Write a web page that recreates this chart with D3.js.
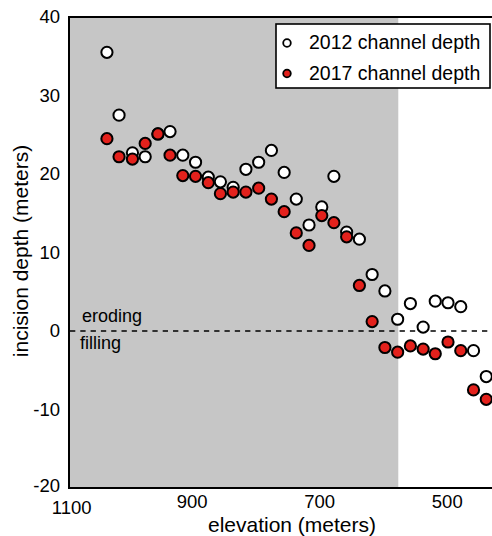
<!DOCTYPE html>
<html>
<head>
<meta charset="utf-8">
<script src="https://cdn.jsdelivr.net/npm/d3@7"></script>
<style>
  body { margin: 0; background: #fff; }
  svg text { font-family: "Liberation Sans", Arial, sans-serif; fill: #000; }
</style>
</head>
<body>
<div id="chart"></div>
<script>
const elevations = [1033, 1014, 993, 973, 953, 934, 914, 894, 874, 855, 835, 815, 795, 775, 755,
    736, 716, 696, 677, 657, 637, 617, 597, 577, 557, 537, 518, 498, 478, 458, 438];
const depth2012 = [35.5, 27.5, 22.7, 22.2, 25.1, 25.4, 22.4, 21.5, 19.6, 19.0, 18.3, 20.6, 21.5, 23.0, 20.2,
    16.8, 13.5, 15.8, 19.7, 12.6, 11.7, 7.2, 5.1, 1.5, 3.5, 0.5, 3.8, 3.6, 3.1, -2.5, -5.8];
const depth2017 = [24.5, 22.2, 21.9, 23.9, 25.1, 22.4, 19.8, 19.7, 18.9, 17.5, 17.7, 17.7, 18.2, 16.8, 15.2,
    12.5, 10.9, 14.7, 13.8, 12.0, 5.8, 1.2, -2.1, -2.7, -1.9, -2.3, -2.9, -1.4, -2.5, -7.5, -8.7];
const xTicks = [1100, 900, 700, 500];
const yTicks = [-20, -10, 0, 10, 20, 30, 40];
const erodingLimit = 576;   // shaded zone: elevations above this
const seriesNames = ["2012 channel depth", "2017 channel depth"];
const seriesColors = ["#ffffff", "#e3211c"];

const width = 492, height = 536;
const margin = { top: 17, right: 0, bottom: 48, left: 69 };

const svg = d3.select("#chart").append("svg")
    .attr("width", width)
    .attr("height", height);

const x = d3.scaleLinear().domain([1092.5, 429]).range([margin.left, width - margin.right]);
const y = d3.scaleLinear().domain([-20, 40]).range([height - margin.bottom, margin.top]);
const fmt = d => String(d);   // plain hyphen minus, no thousands comma

// shaded eroding zone
svg.append("rect")
    .attr("x", x(1092.5))
    .attr("y", y(40))
    .attr("width", x(erodingLimit) - x(1092.5))
    .attr("height", y(-20) - y(40))
    .attr("fill", "#c6c6c6");

// zero line
svg.append("line")
    .attr("x1", x(1092.5) + 1).attr("x2", width)
    .attr("y1", y(0)).attr("y2", y(0))
    .attr("stroke", "#000").attr("stroke-width", 1.6)
    .attr("stroke-dasharray", "5.3,5");

svg.append("text").attr("x", 82).attr("y", y(0) - 9).attr("font-size", 18).text("eroding");
svg.append("text").attr("x", 80).attr("y", y(0) + 18).attr("font-size", 18).text("filling");

// frame
svg.append("path")
    .attr("d", `M${width},${y(40)}H${x(1092.5)}V${y(-20)}H${width}`)
    .attr("fill", "none").attr("stroke", "#000").attr("stroke-width", 2);

// axes
const xAxis = svg.append("g")
    .attr("transform", `translate(0,${y(-20)})`)
    .call(d3.axisBottom(x).tickValues(xTicks).tickFormat(fmt).tickSize(0).tickPadding(7));
xAxis.select(".domain").remove();
xAxis.selectAll("text").attr("font-size", 18.5).attr("font-family", null)
    .attr("dx", d => d === 1100 ? 7 : 0)
    .attr("y", d => d === 1100 ? 13 : 7);

const yAxis = svg.append("g")
    .attr("transform", `translate(${x(1092.5)},0)`)
    .call(d3.axisLeft(y).tickValues(yTicks).tickFormat(fmt).tickSize(0).tickPadding(9));
yAxis.select(".domain").remove();
yAxis.selectAll("text").attr("font-size", 18.5).attr("font-family", null)
    .attr("y", d => d === -20 ? -2.5 : 0);

svg.append("text")
    .attr("x", 292).attr("y", 532)
    .attr("text-anchor", "middle").attr("font-size", 21)
    .text("elevation (meters)");

svg.append("text")
    .attr("transform", `translate(28,251) rotate(-90)`)
    .attr("text-anchor", "middle").attr("font-size", 21)
    .text("incision depth (meters)");

// points
[depth2012, depth2017].forEach((series, s) => {
    svg.append("g").selectAll("circle")
        .data(series)
        .join("circle")
        .attr("cx", (d, i) => x(elevations[i]))
        .attr("cy", d => y(d))
        .attr("r", 5.6)
        .attr("fill", seriesColors[s])
        .attr("stroke", "#000")
        .attr("stroke-width", 2);
});

// legend
const legend = svg.append("g");
legend.append("rect")
    .attr("x", 276).attr("y", 24).attr("width", 214).attr("height", 64)
    .attr("fill", "#fff").attr("stroke", "#000").attr("stroke-width", 1.6);
seriesNames.forEach((name, i) => {
    legend.append("circle")
        .attr("cx", 287).attr("cy", 43 + i * 30.5).attr("r", 3.8)
        .attr("fill", seriesColors[i]).attr("stroke", "#000").attr("stroke-width", 1.8);
    legend.append("text")
        .attr("x", 309).attr("y", 49 + i * 31)
        .attr("font-size", 19.5).text(name);
});
</script>
</body>
</html>
